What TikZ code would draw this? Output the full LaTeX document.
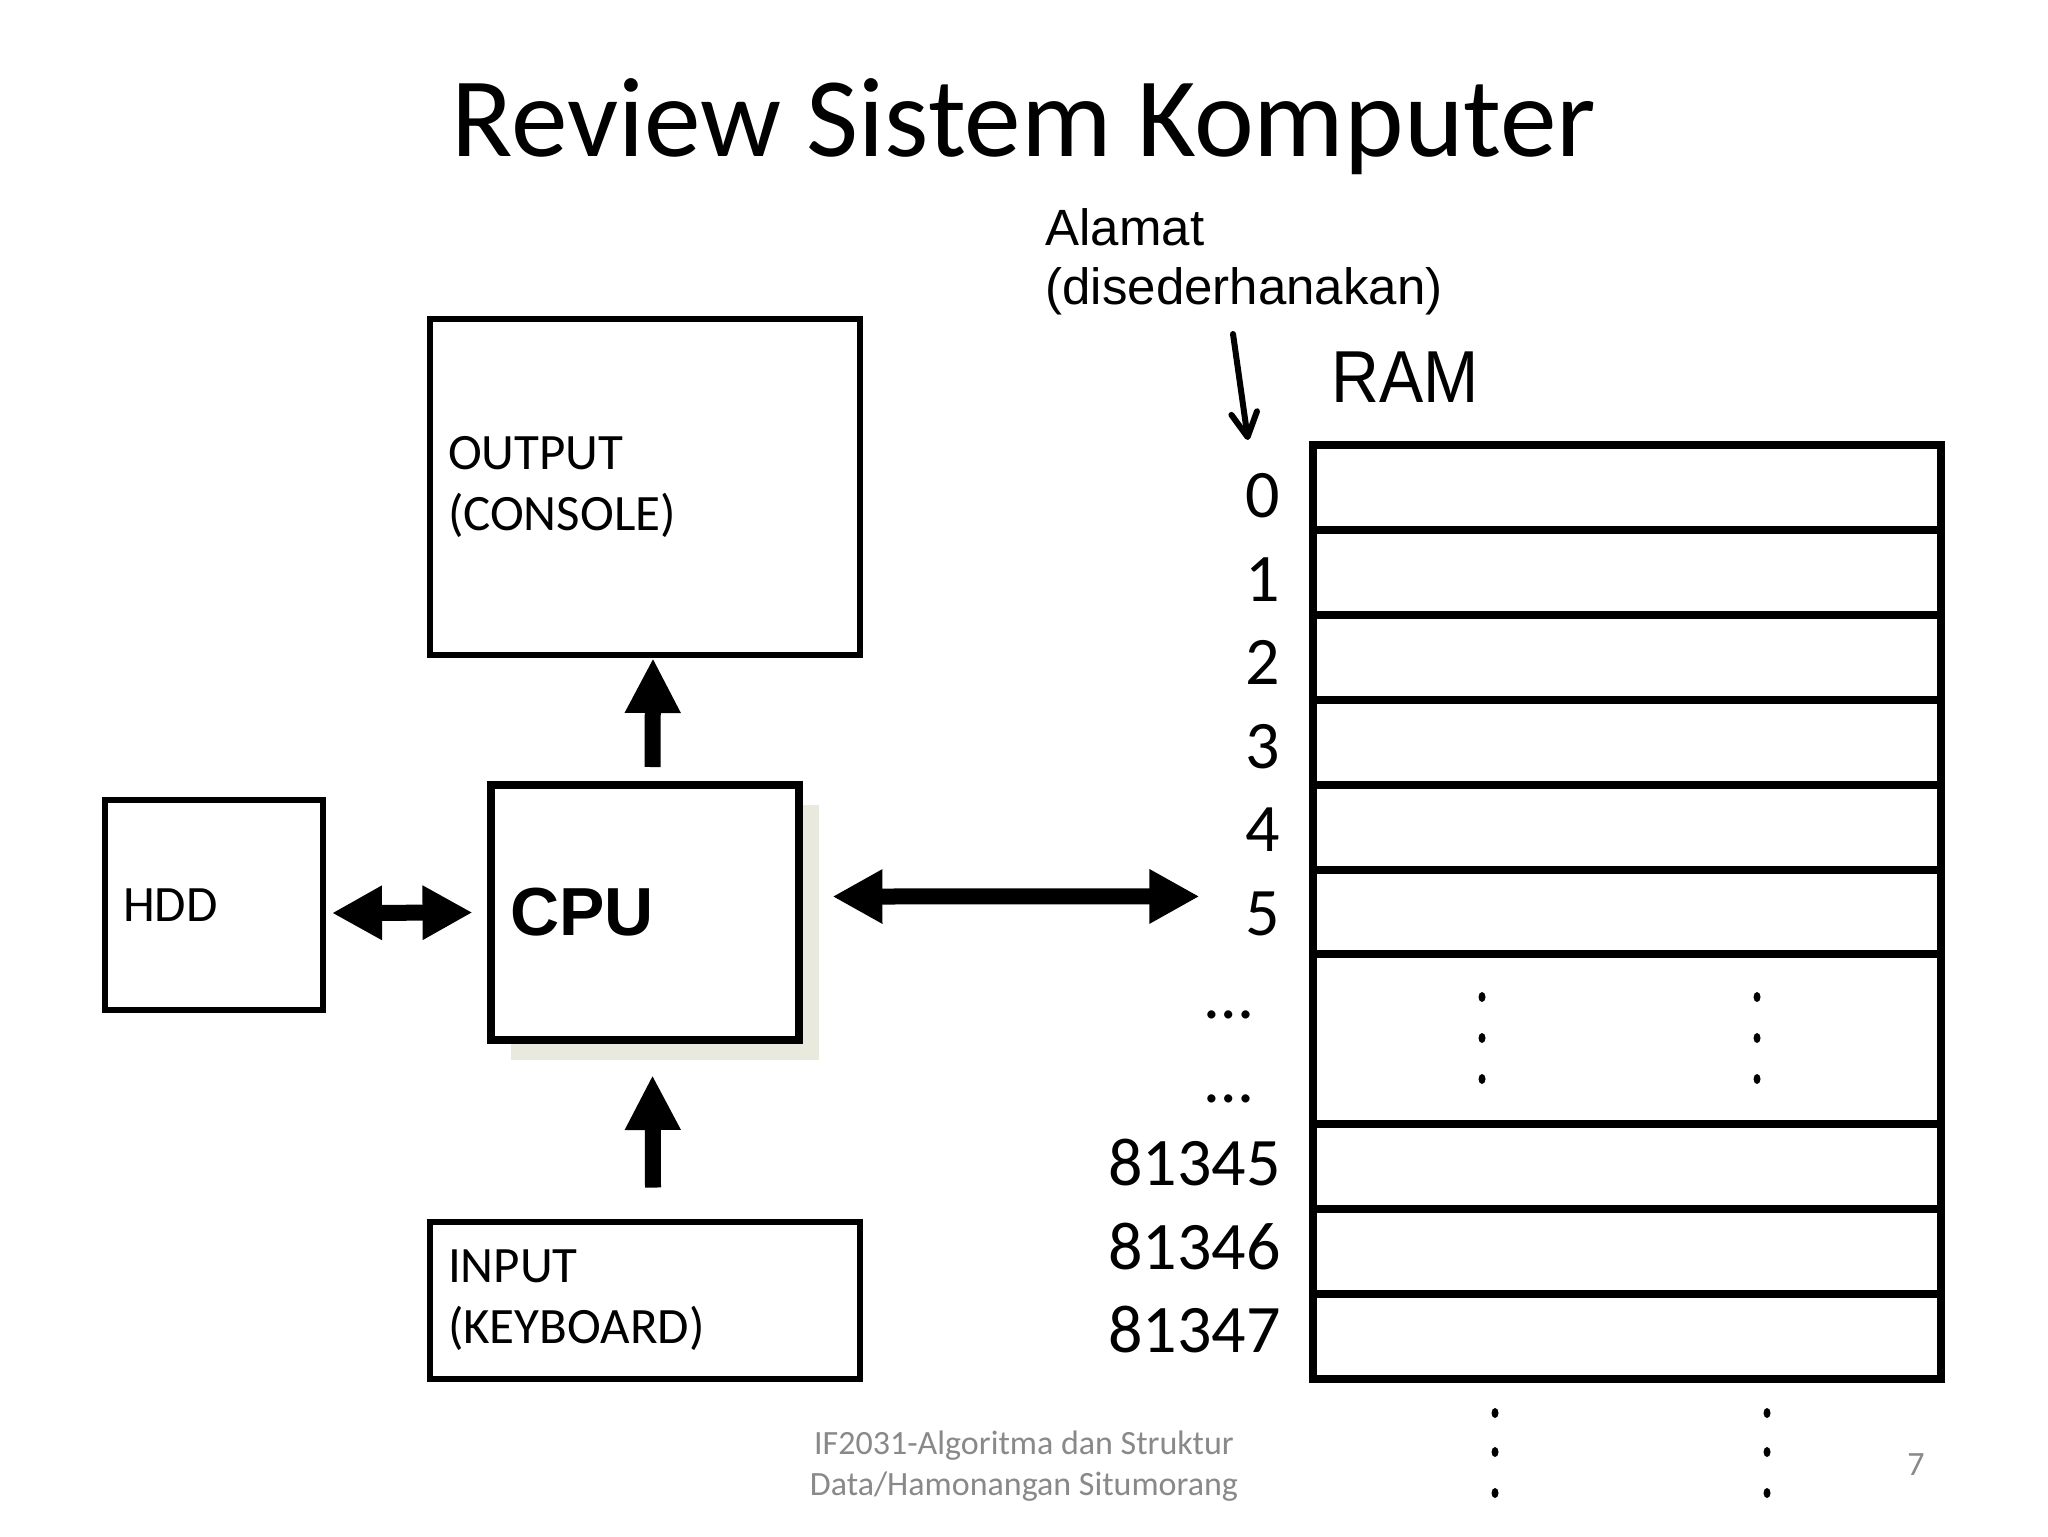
\documentclass[tikz,border=0pt]{standalone}
\usepackage{fontspec}
\setmainfont{Carlito}
\newfontfamily\arialfont{Liberation Sans}
\newfontfamily\arialnarrow[FakeStretch=0.9]{Liberation Sans}
\usetikzlibrary{arrows.meta,calc,shadows}
\newlength{\pxu}
\setlength{\pxu}{0.0124cm}
\definecolor{shadowgray}{RGB}{234,233,222}
\definecolor{footergray}{RGB}{137,137,137}
\tikzset{
	box/.style={draw, fill=white, line width=6\pxu, inner xsep=18\pxu, inner ysep=0pt, align=left, font=\fontsize{18}{21.6}\selectfont},
	cpubox/.style={box, line width=8\pxu, inner xsep=20\pxu, font=\arialfont\bfseries\fontsize{24}{28}\selectfont,
		drop shadow={shadow xshift=20\pxu, shadow yshift=-20\pxu, fill=shadowgray, opacity=1}},
	ram/.style={draw, line width=8\pxu, inner sep=0pt, outer sep=0pt},
	cell/.style={line width=8\pxu},
	addr/.style={inner sep=0pt, anchor=base east, font=\fontsize{24}{28}\selectfont},
	uparrow/.style={line width=16\pxu, -{Triangle[length=0.682cm,width=0.645cm]}},
	dblarrow/.style={line width=16\pxu, {Triangle[length=0.62cm,width=0.632cm]}-{Triangle[length=0.62cm,width=0.632cm]}},
	thinarrow/.style={line width=6\pxu, line cap=round, -{Straight Barb[length=0.3cm,width=0.32cm,round]}},
	footer/.style={text=footergray, font=\fontsize{12}{14.4}\selectfont, align=center, inner sep=0pt},
}
\begin{document}
\begin{tikzpicture}[x=0.0124cm, y=-0.0124cm]
	\path[use as bounding box, fill=white] (0,0) rectangle (2048,1536);
	\node[anchor=base, inner sep=0pt, font=\fontsize{40}{48}\selectfont] (title) at (1024,157) {Review Sistem Komputer};

	\node[box, text width=394\pxu, minimum height=336\pxu] (output) at (645,487) {OUTPUT\\(CONSOLE)};
	\node[cpubox, text width=268\pxu, minimum height=255\pxu] (cpu) at (644.5,912.5) {CPU};
	\node[box, text width=394\pxu, minimum height=157\pxu] (input) at (645,1300) {INPUT\\(KEYBOARD)};
	\node[box, text width=182\pxu, minimum height=210\pxu] (hdd) at (214,905) {HDD};

	\draw[uparrow] ($(cpu.north)+(8,-14)$) -- ($(output.south)+(8,0)$);
	\draw[uparrow] ($(input.north)+(8,-31)$) -- ($(cpu.south)+(8,31)$);
	\draw[dblarrow] ($(hdd.east)+(6,8)$) -- ($(cpu.west)+(-14,0)$);

	\node[ram, minimum width=628\pxu, minimum height=934\pxu] (ram) at (1627,912) {};
	\foreach \k in {1,...,6,8,9,10}
		\draw[cell] ($(ram.north west)!\k/11!(ram.south west)$) -- ($(ram.north east)!\k/11!(ram.south east)$);
	\node[anchor=base west, inner sep=0pt, font=\arialnarrow\fontsize{26}{31}\selectfont] (ramlabel) at (1331,402) {RAM};

	\foreach \t [count=\i from 0] in {0,1,2,3,4,5}
		\node[addr] (l\t) at (1281,{517.5+83.5*\i}) {\t};
	\node[addr] (gap1) at (1253,{517.5+83.5*6}) {…};
	\node[addr] (gap2) at (1253,{517.5+83.5*7}) {…};
	\foreach \t [count=\i from 8] in {81345,81346,81347}
		\node[addr] (l\t) at (1281,{517.5+83.5*\i}) {\t};

	\draw[dblarrow] ($(cpu.east)+(30,-16)$) -- ($(l5.west)+(-46,-17)$);

	\foreach \x in {1482,1757}
		\foreach \y in {997,1038,1079}
			\fill (\x,\y) ellipse [x radius=3.5\pxu, y radius=5\pxu];
	\foreach \x in {1495,1767}
		\foreach \y in {1413,1452,1493}
			\fill (\x,\y) ellipse [x radius=3.5\pxu, y radius=5\pxu];

	\node[anchor=west, inner sep=0pt, align=left, font=\arialfont\fontsize{18}{20.8}\selectfont] (alamat) at (1045,262) {Alamat\\(disederhanakan)};
	\coordinate (addrtail) at (1233,334);
	\coordinate (addrtip) at (1248,440);
	\draw[thinarrow] (addrtail) -- (addrtip);

	\node[footer] (course) at (1024,1466) {IF2031-Algoritma dan Struktur\\Data/Hamonangan Situmorang};
	\node[footer] (page) at (1916,1465) {7};
\end{tikzpicture}
\end{document}
